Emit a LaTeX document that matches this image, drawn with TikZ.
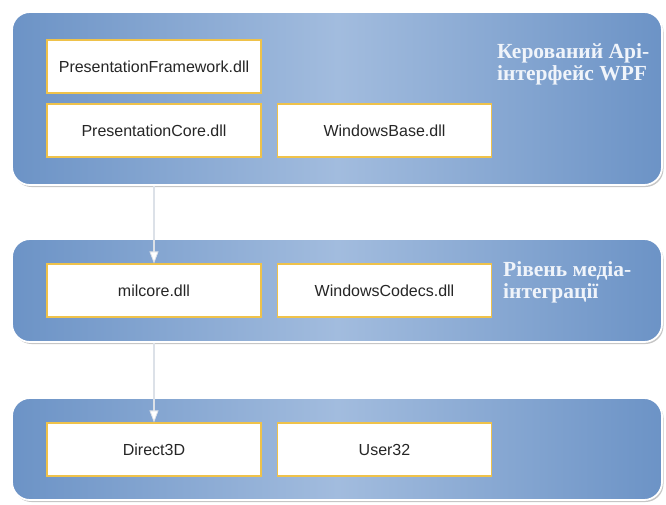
\documentclass[tikz,border=0pt]{standalone}
\usepackage{fontspec}
\setmainfont{Liberation Sans}
\newfontfamily\labelfont{Liberation Serif}
\usepackage{tikz}
\usetikzlibrary{arrows.meta,shadows,calc}

\definecolor{panelDark}{HTML}{6C93C6}
\definecolor{panelLight}{HTML}{A2BCDE}
\definecolor{boxLine}{HTML}{EFC24A}
\definecolor{flowLine}{HTML}{DCE1E8}
\definecolor{labelText}{HTML}{F0F4FA}

\begin{document}
\begin{tikzpicture}[x=1pt, y=-1pt,
    panel/.style={rectangle, rounded corners=18pt, draw=white, line width=1.8pt,
        left color=panelDark, right color=panelDark, middle color=panelLight,
        drop shadow={shadow xshift=1.5pt, shadow yshift=-2pt, opacity=0.45},
        minimum width=650pt, inner sep=0pt},
    dllbox/.style={rectangle, draw=boxLine, line width=1.1pt, fill=white,
        minimum width=214pt, minimum height=53pt, inner sep=0pt,
        text=black!85, font=\fontsize{16}{19}\selectfont},
    layer/.style={anchor=base west, align=left, text=labelText, inner sep=0pt,
        font=\labelfont\bfseries\fontsize{21.5}{21.5}\selectfont},
    flow/.style={draw=flowLine, line width=1.4pt,
        -{Triangle[width=9pt, length=12pt, fill=white, line width=0.8pt]}}]
        \useasboundingbox (0,0) rectangle (666,504);

        % Managed API layer
        \node[panel, minimum height=173pt] (apiPanel) at (337,98.5) {};
        \node[dllbox] (framework) at (154,66.5) {PresentationFramework.dll};
        \node[dllbox] (core) at (154,130.5) {PresentationCore.dll};
        \node[dllbox] (winbase) at (384.5,130.5) {WindowsBase.dll};
        \node[layer] (apiLabel) at (497,80) {Керований Api-\\інтерфейс WPF};

        % Media integration layer
        \node[panel, minimum height=103pt] (mediaPanel) at (337,290.5) {};
        \node[dllbox] (milcore) at (154,290.5) {milcore.dll};
        \node[dllbox] (codecs) at (384.5,290.5) {WindowsCodecs.dll};
        \node[layer] (mediaLabel) at (503,298) {Рівень медіа-\\інтеграції};

        % System layer
        \node[panel, minimum height=102pt] (sysPanel) at (337,449) {};
        \node[dllbox] (direct) at (154,449.5) {Direct3D};
        \node[dllbox] (user) at (384.5,449.5) {User32};

        % Connections
        \draw[flow] (apiPanel.south -| core) -- (milcore.north);
        \draw[flow] (mediaPanel.south -| milcore) -- (direct.north);
    \end{tikzpicture}
\end{document}
